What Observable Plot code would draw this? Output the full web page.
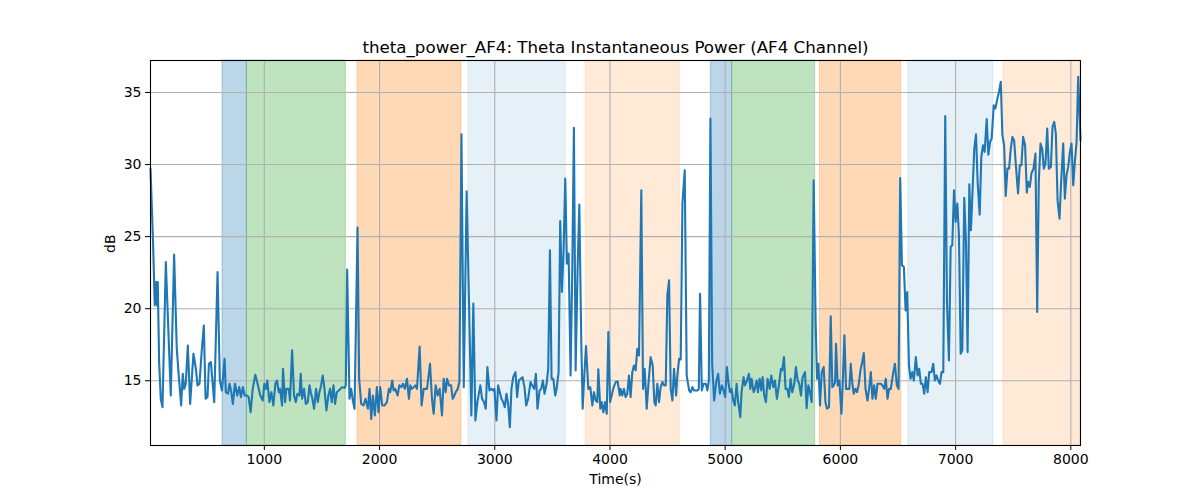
<!DOCTYPE html>
<html><head><meta charset="utf-8">
<script src="https://cdn.jsdelivr.net/npm/d3@7"></script>
<script src="https://cdn.jsdelivr.net/npm/@observablehq/plot@0.6"></script>
<style>html,body{margin:0;padding:0;background:#fff;}</style>
</head><body><div id="chart"></div>
<script>
const titleText = "theta_power_AF4: Theta Instantaneous Power (AF4 Channel)";
const xLabel = "Time(s)";
const yLabel = "dB";
const xTicks = [1000, 2000, 3000, 4000, 5000, 6000, 7000, 8000];
const yTicks = [15, 20, 25, 30, 35];

const times = [
 12,34,49,60,69,75,87,101,116,145,188,217,240,255,278,292,304,318,336,356,385,406,420,437,458,475,490,507,519,536,565,594,614,632,655,666,684,698,713,727,745,765,782,797,814,829,849,864,881,899,922,945,965,986,1000,1015,1026,1044,1061,1078,1096,1110,1125,1136,1154,1162,1180,1191,1212,1223,1241,1258,1273,1287,1305,1316,1328,1345,1360,1377,1392,
 1403,1417,1432,1449,1464,1478,1493,1507,1522,1539,1556,1571,1585,1600,1614,1629,1646,1661,1675,1696,1707,1719,1739,1754,1768,1783,1809,1823,1841,1861,1878,1899,1913,1928,1942,1959,1977,1991,2006,2023,2044,2064,2081,2093,2110,2122,2136,2157,2171,2189,2203,2220,2238,2255,2267,2281,2296,2310,2325,2348,2365,2383,2412,2438,2455,2470,2487,2505,2522,2542,2557,2574,2586,2603,2621,2635,2650,2661,2679,2693,2711,2731,
 2756,2797,2814,2832,2849,2875,2890,2907,2922,2936,2954,2971,2986,2997,3015,3029,3044,3058,3073,3087,3102,3116,3131,3145,3160,3180,3194,3209,3226,3241,3258,3273,3290,3310,3325,3342,3357,3371,3389,3403,3418,3432,3450,3464,3479,3493,3508,3525,3537,3554,3568,3583,3597,3612,3626,3641,3658,3673,3687,3702,3719,3734,3751,3763,3777,3792,3812,3829,3847,3861,3876,3890,3899,3916,3928,3943,3957,3972,3986,4001,4015,4032,4050,4067,4085,
 4092,4107,4121,4136,4150,4165,4179,4194,4208,4223,4237,4252,4272,4287,4301,4319,4333,4353,4371,4385,4397,4411,4426,4440,4455,4469,4484,4498,4513,4527,4542,4556,4574,4585,4600,4614,4629,4649,4666,4687,4701,4716,4730,4745,4759,4771,4782,4797,4812,4832,4846,4858,4872,4887,4904,4922,4939,4954,4971,4986,5000,5015,5026,5041,5055,5070,5084,5099,5113,5131,5142,5160,5171,5189,5206,5218,5229,5247,5258,5273,5284,5299,5313,5325,5339,5354,5368,5386,5400,5418,5432,
 5449,5466,5484,5495,5510,5524,5539,5553,5568,5582,5600,5614,5629,5643,5658,5672,5693,5707,5722,5736,5751,5768,5785,5797,5809,5823,5838,5855,5870,5884,5901,5916,5930,5942,5954,5962,5977,5991,6009,6023,6035,6049,6064,6078,6090,6104,6116,6131,6145,6160,6174,6189,6203,6218,6235,6249,6264,6278,6293,6307,6322,6336,6351,6365,6380,6394,6409,6423,6438,6455,6473,6490,6505,6519,6534,6551,6566,6580,6595,6609,6624,6638,6655,6670,6684,6699,6713,6728,6742,6757,6771,
 6791,6806,6820,6835,6849,6864,6878,6893,6910,6925,6942,6957,6971,6986,7000,7015,7029,7044,7058,7075,7090,7104,7119,7133,7148,7162,7177,7191,7209,7223,7238,7252,7270,7284,7299,7313,7331,7345,7363,7377,7392,7406,7421,7435,7450,7464,7479,7493,7508,7522,7542,7557,7571,7586,7603,7618,7629,7644,7658,7676,7693,7708,7722,7737,7751,7766,7780,7795,7809,7827,7841,7856,7870,7885,7902,7916,7934,7948,7963,7977,7992,8006,8021,8035,8050,8064,8084
];

const values = [
 29.72,24.63,20.23,21.85,20.23,21.85,16.30,13.75,13.17,23.24,13.98,23.75,17.22,15.60,13.29,15.49,14.44,14.79,17.45,13.40,16.88,15.83,14.68,14.79,17.22,18.84,13.75,13.87,16.18,16.30,13.52,22.55,15.02,14.33,16.53,14.21,14.10,14.79,14.21,13.40,14.79,13.98,14.56,13.87,14.56,13.98,13.98,13.87,12.82,14.44,15.42,14.68,13.98,13.63,14.79,14.44,15.02,13.52,14.21,13.29,14.79,15.02,14.21,14.44,13.29,15.83,13.52,14.44,14.44,13.63,17.11,13.98,13.52,14.10,13.98,15.49,13.75,14.44,13.40,13.52,14.68,
 14.21,13.75,13.06,14.44,13.52,14.21,14.68,15.37,14.44,12.94,13.98,14.44,13.52,14.68,13.40,14.21,14.33,14.44,14.56,14.50,14.68,22.71,13.75,14.44,13.63,13.06,25.63,15.14,13.40,13.29,13.75,13.06,14.44,12.36,13.98,12.59,14.56,12.82,14.56,13.29,13.29,13.52,14.44,14.21,15.02,14.33,14.44,13.98,14.68,14.56,14.79,14.44,15.14,13.75,14.68,14.44,14.56,14.68,14.44,17.38,13.29,14.44,14.44,16.18,13.75,12.71,14.68,13.98,14.44,12.59,15.14,14.21,15.14,14.68,14.68,13.75,13.98,14.21,14.44,14.91,32.10,14.56,
 28.15,12.59,20.35,12.25,13.52,14.68,13.75,13.52,13.06,15.95,14.33,14.44,14.33,14.44,12.25,14.68,14.21,13.75,13.52,13.17,14.10,13.40,11.78,14.44,15.25,15.60,13.87,15.02,15.14,15.25,14.56,13.29,13.75,14.91,14.68,14.44,15.49,13.06,14.33,14.44,15.02,14.10,14.79,15.83,24.05,15.14,15.14,13.98,14.44,15.60,26.09,21.16,23.94,29.03,23.13,23.82,15.37,22.78,32.55,15.72,22.78,27.22,17.69,13.06,15.37,17.41,14.44,14.56,13.29,14.21,13.63,13.52,15.79,13.06,13.52,12.82,13.52,12.71,18.38,13.52,13.98,14.56,14.91,14.95,13.98,
 14.44,13.98,14.44,13.87,14.10,15.37,13.87,15.60,16.06,15.72,17.22,16.76,28.22,14.44,15.83,13.06,14.68,16.64,16.06,13.52,13.29,14.79,13.52,14.56,14.91,14.68,14.68,20.93,21.97,14.44,13.63,15.83,13.98,15.37,16.53,16.48,27.29,29.61,15.37,14.33,14.21,14.56,14.33,14.33,14.33,14.44,21.04,14.33,14.79,14.79,14.33,15.02,33.19,16.18,13.63,14.91,15.49,14.10,14.68,14.33,13.87,15.95,15.02,14.21,14.44,13.63,13.29,14.79,13.52,12.48,14.21,15.25,14.68,15.02,15.49,14.44,15.14,14.21,14.44,15.02,14.21,15.14,14.33,15.25,13.98,13.52,15.14,14.44,15.37,14.56,15.02,
 13.75,14.68,15.83,15.72,16.64,14.44,14.44,13.87,15.14,14.21,14.79,15.95,15.02,14.79,13.98,15.25,15.60,13.10,14.68,14.21,13.52,28.91,19.07,15.14,16.18,13.29,15.60,15.95,13.52,13.06,13.17,19.47,14.56,14.68,14.91,17.57,14.68,15.02,12.71,15.37,18.15,14.44,14.44,14.44,16.18,14.79,14.10,14.44,14.21,14.79,15.72,16.30,16.92,14.44,13.63,14.44,15.60,13.75,14.68,13.75,14.79,14.79,14.79,14.68,14.44,15.14,13.75,14.44,14.44,15.37,16.18,14.68,14.44,29.07,23.01,22.89,19.88,21.16,16.06,15.14,15.60,15.02,16.64,15.37,15.83,14.79,14.79,14.10,15.25,14.21,15.60,
 15.60,16.18,15.02,15.37,15.02,14.79,15.60,15.60,33.36,20.46,16.41,24.28,24.40,28.22,26.02,27.29,25.09,16.88,17.11,27.69,24.63,16.99,28.63,25.44,28.33,31.11,32.10,28.80,26.53,30.53,31.34,30.88,33.15,30.69,31.57,31.81,34.12,33.89,34.58,35.05,35.74,32.04,31.34,27.82,29.72,29.72,31.11,31.92,31.69,30.07,27.99,29.95,29.95,31.92,31.34,28.06,28.80,28.45,29.38,29.72,30.76,19.77,28.80,31.46,31.11,29.72,30.07,32.50,29.72,29.84,32.62,32.96,32.15,27.52,26.25,28.80,31.46,27.64,29.26,29.84,30.88,31.46,28.56,30.19,31.57,36.09,31.69
];

// shaded intervals (start, end, kind)
const spanStart = [637, 849, 1809, 2771, 3789, 4875, 5061, 5823, 6589, 7415];
const spanEnd   = [849, 1707, 2710, 3615, 4606, 5061, 5780, 6528, 7328, 8084];
const spanKind  = ["A", "B", "C", "D", "E", "A", "B", "C", "D", "E"];

const kindColor = {A: "#1f77b4", B: "#2ca02c", C: "#ff7f0e", D: "#1f77b4", E: "#ff7f0e"};
const kindAlpha = {A: 0.3, B: 0.3, C: 0.3, D: 0.11, E: 0.16};

const n = Math.min(times.length, values.length);
const series = times.slice(0, n).map((t, i) => ({t, v: values[i]}));
const spans = spanStart.map((s, i) => ({x1: s, x2: spanEnd[i], kind: spanKind[i]}));

const chart = Plot.plot({
  width: 1200, height: 500,
  marginLeft: 150, marginRight: 120, marginTop: 60, marginBottom: 55,
  style: {fontFamily: "'DejaVu Sans', sans-serif", fontSize: "14px", color: "black", background: "white"},
  x: {domain: [12, 8084]},
  y: {domain: [10.51, 37.22]},
  marks: [
    ...Object.keys(kindColor).map(k => Plot.rect(spans.filter(d => d.kind === k), {
      x1: "x1", x2: "x2", fill: kindColor[k], fillOpacity: kindAlpha[k],
      stroke: kindColor[k], strokeOpacity: kindAlpha[k], strokeWidth: 1
    })),
    Plot.gridX({ticks: xTicks, stroke: "#b0b0b0", strokeOpacity: 1, strokeWidth: 1.1}),
    Plot.gridY({ticks: yTicks, stroke: "#b0b0b0", strokeOpacity: 1, strokeWidth: 1.1}),
    Plot.line(series, {x: "t", y: "v", stroke: "#1f77b4", strokeWidth: 2.1, strokeLinejoin: "round"}),
    Plot.frame({stroke: "black", strokeWidth: 1.1}),
    Plot.axisX({ticks: xTicks, tickSize: 5, tickPadding: 4, fontSize: 14, label: null, tickFormat: d => String(d)}),
    Plot.axisY({ticks: yTicks, tickSize: 5, tickPadding: 4, fontSize: 14, label: null}),
    Plot.text([titleText], {frameAnchor: "top", dy: -8, lineAnchor: "bottom", fontSize: 16.7}),
    Plot.text([xLabel], {frameAnchor: "bottom", dy: 29, lineAnchor: "top", fontSize: 14}),
    Plot.text([yLabel], {frameAnchor: "left", dx: -40, rotate: -90, fontSize: 14})
  ]
});
document.getElementById("chart").appendChild(chart);
</script>
</body></html>
